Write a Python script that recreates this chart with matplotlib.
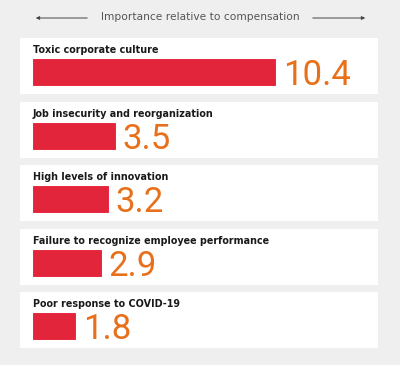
import matplotlib.pyplot as plt
from matplotlib.patches import Rectangle

# Data
factors = ['Toxic corporate culture',
           'Job insecurity and reorganization',
           'High levels of innovation',
           'Failure to recognize employee performance',
           'Poor response to COVID-19']
importance = [10.4, 3.5, 3.2, 2.9, 1.8]
header = 'Importance relative to compensation'

BG = '#efefef'
RED = '#e2253b'
ORANGE = '#e8701a'

fig = plt.figure(figsize=(4, 3.65), dpi=100)
fig.set_facecolor(BG)

# Background layer in pixel coordinates (panels, header arrows)
bg = fig.add_axes([0, 0, 1, 1])
bg.set_xlim(0, 400)
bg.set_ylim(365, 0)
bg.axis('off')
for i in range(len(factors)):
    top = 38 + i * 63.5
    bg.add_patch(Rectangle((20, top), 358, 56, facecolor='white', edgecolor='none'))

bg.text(200, 17, header, ha='center', va='center', fontsize=7.7,
        color='#555555', family='DejaVu Sans')
bg.annotate('', xy=(33, 18), xytext=(90, 18),
            arrowprops=dict(arrowstyle='-|>', color='#444444', lw=0.7,
                            mutation_scale=5))
bg.annotate('', xy=(368, 18), xytext=(310, 18),
            arrowprops=dict(arrowstyle='-|>', color='#444444', lw=0.7,
                            mutation_scale=5))

# Bars
px_per_unit = 23.3
ax = fig.add_axes([33 / 400, 1 - 358.2 / 365, 345 / 400, 318 / 365])
ax.set_xlim(0, 345 / px_per_unit)
ax.set_ylim(len(factors) - 0.5, -0.5)
ax.axis('off')
ax.patch.set_alpha(0)

ypos = list(range(len(factors)))
ax.barh(ypos, importance, height=0.41, left=0, color=RED,
        edgecolor='#e61830', linewidth=0.6)

for y, name, val in zip(ypos, factors, importance):
    ax.text(0, y - 0.3, name, ha='left', va='baseline', fontsize=6.9,
            fontweight='bold', color='#1a1a1a', family='DejaVu Sans')
    ax.annotate(f'{val}', xy=(val, y + 0.205), xytext=(5.5, 0),
                textcoords='offset points', ha='left', va='baseline',
                fontsize=25, color=ORANGE, family='Roboto', fontweight='normal')

fig.savefig('out.png', dpi=100, facecolor=BG)
